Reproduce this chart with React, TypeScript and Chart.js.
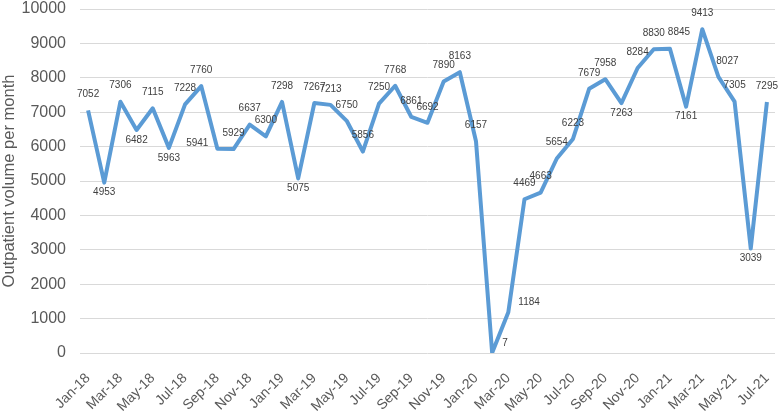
import React, { useEffect, useRef } from "react";
import { Chart, registerables } from "chart.js";

Chart.register(...registerables);

const months: string[] = [
  "Jan-18", "Feb-18", "Mar-18", "Apr-18", "May-18", "Jun-18", "Jul-18", "Aug-18", "Sep-18", "Oct-18", "Nov-18", "Dec-18",
  "Jan-19", "Feb-19", "Mar-19", "Apr-19", "May-19", "Jun-19", "Jul-19", "Aug-19", "Sep-19", "Oct-19", "Nov-19", "Dec-19",
  "Jan-20", "Feb-20", "Mar-20", "Apr-20", "May-20", "Jun-20", "Jul-20", "Aug-20", "Sep-20", "Oct-20", "Nov-20", "Dec-20",
  "Jan-21", "Feb-21", "Mar-21", "Apr-21", "May-21", "Jun-21", "Jul-21",
];

const volumes: number[] = [
  7052, 4953, 7306, 6482, 7115, 5963, 7228, 7760, 5941, 5929, 6637, 6300,
  7298, 5075, 7267, 7213, 6750, 5856, 7250, 7768, 6861, 6692, 7890, 8163,
  6157, 7, 1184, 4469, 4663, 5654, 6223, 7679, 7958, 7263, 8284, 8830,
  8845, 7161, 9413, 8027, 7305, 3039, 7295,
];

// label placement codes: a = above, b = below, l = left, r = right, ar = above-right
const labelPlacement: string[] = [
  "a", "b", "a", "b", "a", "b", "a", "a", "l", "a", "a", "a",
  "a", "b", "a", "a", "a", "a", "a", "a", "a", "a", "a", "a",
  "a", "r", "r", "a", "a", "a", "a", "a", "a", "b", "a", "a",
  "ar", "b", "a", "ar", "a", "b", "a",
];

const yTitle = "Outpatient volume per month";
const FONT = "'Liberation Sans', Arial, sans-serif";

const dataLabelPlugin = {
  id: "dataLabels",
  afterDatasetsDraw(chart: any) {
    const ctx = chart.ctx;
    const meta = chart.getDatasetMeta(0);
    ctx.save();
    ctx.font = `10px ${FONT}`;
    ctx.fillStyle = "#404040";
    meta.data.forEach((pt: any, i: number) => {
      const text = String(volumes[i]);
      const p = labelPlacement[i];
      let x = pt.x;
      let y = pt.y;
      ctx.textBaseline = "middle";
      if (p === "a") {
        ctx.textAlign = "center";
        y -= 16;
      } else if (p === "b") {
        ctx.textAlign = "center";
        y += 10;
      } else if (p === "l") {
        ctx.textAlign = "right";
        x -= 9;
        y -= 5;
      } else if (p === "r") {
        ctx.textAlign = "left";
        x += 10;
        y -= 10;
      } else if (p === "ar") {
        ctx.textAlign = "center";
        x += 9;
        y -= 16;
      }
      ctx.fillText(text, x, y);
    });
    ctx.restore();
  },
};

export default function App() {
  const canvasRef = useRef<HTMLCanvasElement | null>(null);

  useEffect(() => {
    if (!canvasRef.current) return;
    const chart = new Chart(canvasRef.current, {
      type: "line",
      data: {
        labels: months,
        datasets: [
          {
            data: volumes,
            borderColor: "#5B9BD5",
            backgroundColor: "#5B9BD5",
            borderWidth: 4,
            pointRadius: 0,
            tension: 0,
            borderJoinStyle: "round",
            fill: false,
          },
        ],
      },
      options: {
        responsive: false,
        animation: false,
        layout: { padding: { left: 0, right: 4, top: 0, bottom: 0 } },
        plugins: {
          legend: { display: false },
          tooltip: { enabled: false },
        },
        scales: {
          x: {
            offset: true,
            grid: { display: false },
            border: { display: false },
            ticks: {
              autoSkip: false,
              maxRotation: 45,
              minRotation: 45,
              color: "#595959",
              font: { family: FONT, size: 14 },
              padding: 9,
              callback: (_v: any, i: number) => (i % 2 === 0 ? months[i] : null),
            },
            afterFit: (s: any) => {
              s.height = 58;
              s.paddingLeft = 0;
              s.paddingRight = 0;
            },
          },
          y: {
            min: 0,
            max: 10000,
            border: { display: false },
            grid: { color: "#D9D9D9", lineWidth: 1, drawTicks: false },
            ticks: {
              stepSize: 1000,
              color: "#595959",
              font: { family: FONT, size: 16 },
              padding: 14,
              callback: (v: any) => String(v),
            },
            title: {
              display: true,
              text: yTitle,
              color: "#595959",
              font: { family: FONT, size: 16.5 },
              padding: 0,
            },
            afterFit: (s: any) => {
              s.width = 80;
              s.paddingTop = 9;
              s.paddingBottom = 0;
            },
          },
        },
      },
      plugins: [dataLabelPlugin],
    } as any);
    return () => chart.destroy();
  }, []);

  return (
    <div style={{ position: "fixed", left: 0, top: 0, width: 779, height: 411, background: "#fff" }}>
      <canvas ref={canvasRef} width={779} height={411} style={{ display: "block" }} />
    </div>
  );
}
